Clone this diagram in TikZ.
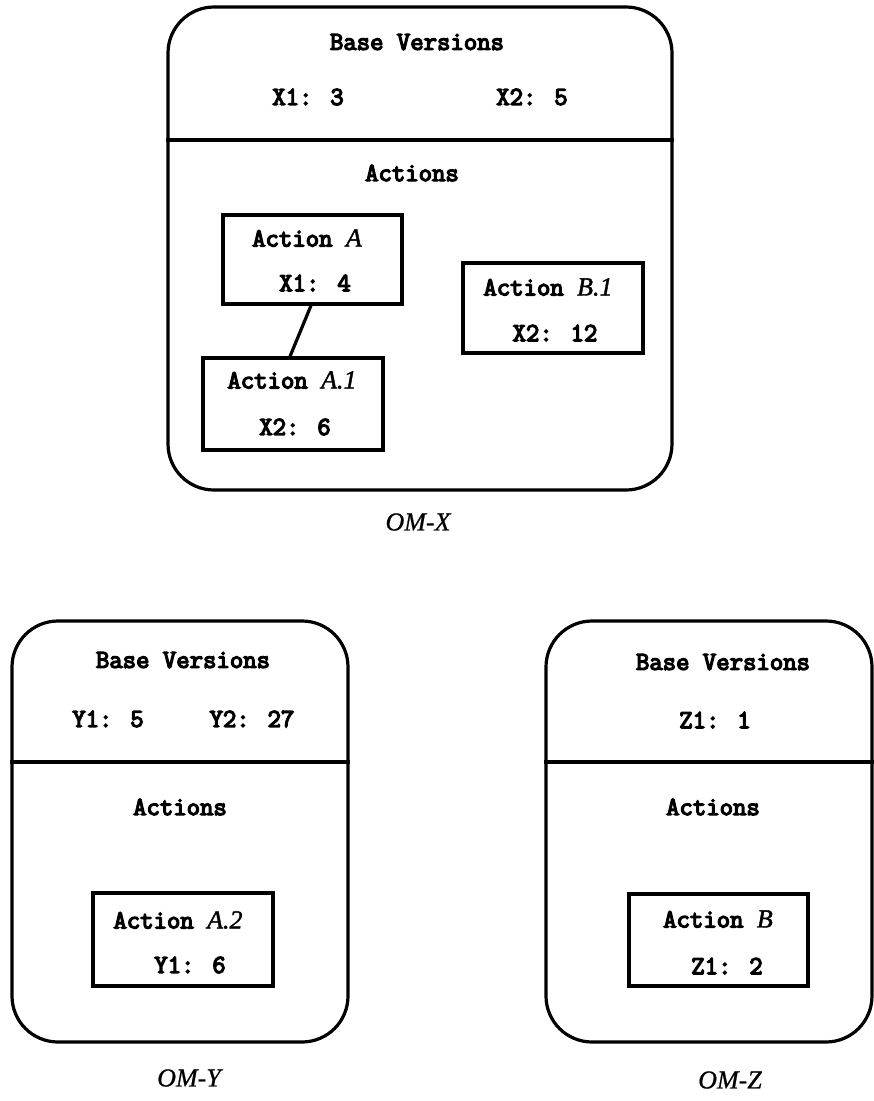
\documentclass[tikz,border=0pt]{standalone}
\usepackage{fontspec}
\setmainfont{Liberation Serif}
\newfontfamily\ttheavy{Latin Modern Mono}[FakeBold=5]
\newfontfamily\serifit{Liberation Serif}[FakeBold=1.5]
\newfontfamily\labelit{Liberation Serif}[FakeBold=0.7]
\begin{document}
\begin{tikzpicture}[x=1pt,y=-1pt,
  omstyle/.style={draw,line width=3.2pt,rounded corners=46pt,inner sep=0pt},
  actbox/.style={draw,line width=3.2pt,inner sep=0pt},
  tt/.style={inner sep=0pt,font=\fontsize{26}{30}\selectfont\ttheavy},
  omlabel/.style={inner sep=0pt,font=\fontsize{26}{30}\selectfont\labelit\itshape},
  link/.style={line width=3.2pt}]
\useasboundingbox (0,0) rectangle (874,1101);
\newcommand{\myit}[1]{{\fontsize{26}{30}\selectfont\serifit\itshape #1}}
% OM-X
\node[omstyle,minimum width=504pt,minimum height=483pt] (omx) at (420,248.5) {};
\draw[link] (omx.west |- 0,140) -- (omx.east |- 0,140);
\node[tt] (bvx) at (417,42) {Base Versions};
\node[tt] (x1) at (308,97) {X1: 3};
\node[tt] (x2) at (532,97) {X2: 5};
\node[tt] (actx) at (412,173) {Actions};
\node[actbox,minimum width=179pt,minimum height=89pt] (a) at (312.5,259.5) {};
\node[tt] (at) at (307,238) {Action \myit{A}};
\node[tt] (av) at (315,283) {X1: 4};
\node[actbox,minimum width=180pt,minimum height=92pt] (a1) at (293,404) {};
\node[tt] (a1t) at (292,380) {Action \myit{A.1}};
\node[tt] (a1v) at (295,427) {X2: 6};
\node[actbox,minimum width=180pt,minimum height=90pt] (b1) at (553,308) {};
\node[tt] (b1t) at (548,287) {Action \myit{B.1}};
\node[tt] (b1v) at (555,333) {X2: 12};
\draw[link] ([xshift=-1.5pt]a.south) -- ([xshift=-3pt]a1.north);
\node[omlabel] (omxl) at (418,522) {OM-X};
% OM-Y
\node[omstyle,minimum width=336pt,minimum height=421pt] (omy) at (180,831.5) {};
\draw[link] (omy.west |- 0,762) -- (omy.east |- 0,762);
\node[tt] (bvy) at (183,660) {Base Versions};
\node[tt] (y1) at (108,719) {Y1: 5};
\node[tt] (y2) at (252,719) {Y2: 27};
\node[tt] (acty) at (180,807) {Actions};
\node[actbox,minimum width=180pt,minimum height=93pt] (a2) at (183,939.5) {};
\node[tt] (a2t) at (178,920) {Action \myit{A.2}};
\node[tt] (a2v) at (190,965) {Y1: 6};
\node[omlabel] (omyl) at (189,1078) {OM-Y};
% OM-Z
\node[omstyle,minimum width=326pt,minimum height=421pt] (omz) at (709,831.5) {};
\draw[link] (omz.west |- 0,762) -- (omz.east |- 0,762);
\node[tt] (bvz) at (723,662) {Base Versions};
\node[tt] (z1) at (715,720) {Z1: 1};
\node[tt] (actz) at (713,807) {Actions};
\node[actbox,minimum width=179pt,minimum height=92pt] (b) at (718.5,940) {};
\node[tt] (bt) at (718,919) {Action \myit{B}};
\node[tt] (bv) at (727,966) {Z1: 2};
\node[omlabel] (omzl) at (730,1080) {OM-Z};
\end{tikzpicture}
\end{document}
